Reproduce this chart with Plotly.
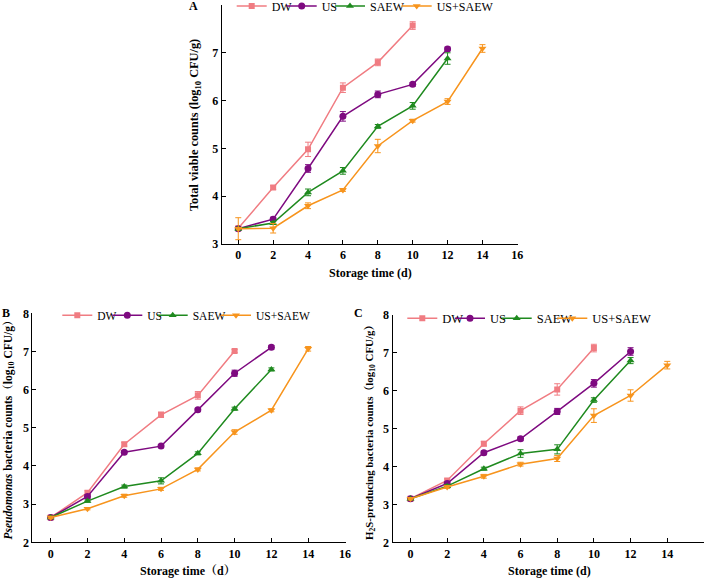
import plotly.graph_objects as go

W, H = 709, 578
days = [0, 2, 4, 6, 8, 10, 12, 14]
series_names = ["DW", "US", "SAEW", "US+SAEW"]
x_ticks = [0, 2, 4, 6, 8, 10, 12, 14, 16]
x_tick_labels = ["0", "2", "4", "6", "8", "10", "12", "14", "16"]
y_ticks_a = [3, 4, 5, 6, 7, 8]
y_ticks_bc = [2, 3, 4, 5, 6, 7, 8]

# Panel A: total viable counts
a_dw = [3.33, 4.18, 4.98, 6.27, 6.80, 7.57]
a_us = [3.32, 3.52, 4.58, 5.67, 6.13, 6.34, 7.08]
a_saew = [3.32, 3.44, 4.08, 4.53, 5.46, 5.89, 6.88]
a_ussaew = [3.32, 3.33, 3.80, 4.13, 5.05, 5.58, 5.98, 7.09]
a_dw_err = [0.03, 0.04, 0.15, 0.10, 0.07, 0.08]
a_us_err = [0.03, 0.04, 0.08, 0.10, 0.07, 0.04, 0.04]
a_saew_err = [0.03, 0.03, 0.07, 0.07, 0.04, 0.07, 0.12]
a_ussaew_err = [0.23, 0.10, 0.06, 0.03, 0.14, 0.03, 0.06, 0.08]

# Panel B: Pseudomonas counts
b_dw = [2.65, 3.30, 4.57, 5.34, 5.85, 7.01]
b_us = [2.65, 3.20, 4.36, 4.52, 5.47, 6.43, 7.11]
b_saew = [2.65, 3.08, 3.46, 3.61, 4.33, 5.50, 6.53]
b_ussaew = [2.65, 2.88, 3.22, 3.40, 3.91, 4.89, 5.46, 7.07]
b_dw_err = [0.03, 0.05, 0.05, 0.07, 0.10, 0.04]
b_us_err = [0.03, 0.05, 0.04, 0.04, 0.04, 0.08, 0.05]
b_saew_err = [0.03, 0.03, 0.04, 0.08, 0.04, 0.04, 0.04]
b_ussaew_err = [0.03, 0.03, 0.04, 0.04, 0.04, 0.06, 0.04, 0.06]

# Panel C: H2S-producing bacteria counts
c_dw = [3.15, 3.63, 4.60, 5.47, 6.03, 7.12]
c_us = [3.15, 3.55, 4.36, 4.73, 5.45, 6.19, 7.03]
c_saew = [3.15, 3.48, 3.94, 4.34, 4.45, 5.75, 6.79]
c_ussaew = [3.15, 3.46, 3.74, 4.06, 4.21, 5.34, 5.87, 6.67]
c_dw_err = [0.02, 0.04, 0.06, 0.10, 0.15, 0.10]
c_us_err = [0.03, 0.04, 0.05, 0.05, 0.08, 0.10, 0.10]
c_saew_err = [0.03, 0.04, 0.04, 0.10, 0.12, 0.06, 0.08]
c_ussaew_err = [0.03, 0.04, 0.05, 0.05, 0.08, 0.18, 0.15, 0.10]

colors = ["#F07C82", "#7E0A80", "#1F8A1F", "#F7941D"]
symbols = ["square", "circle", "triangle-up", "triangle-down"]
msizes = [6, 7, 7, 7]

FONT = "Liberation Serif, Times New Roman, Noto Serif CJK SC, Noto Sans CJK SC, serif"

panels = [
    ("x", "y", [a_dw, a_us, a_saew, a_ussaew], [a_dw_err, a_us_err, a_saew_err, a_ussaew_err]),
    ("x2", "y2", [b_dw, b_us, b_saew, b_ussaew], [b_dw_err, b_us_err, b_saew_err, b_ussaew_err]),
    ("x3", "y3", [c_dw, c_us, c_saew, c_ussaew], [c_dw_err, c_us_err, c_saew_err, c_ussaew_err]),
]

# legend text start (px) and vertical centre (px) for each panel
legend_text_x = [[271.7, 321.7, 370.0, 436.7], [97.3, 147.3, 192.7, 256.0], [442.3, 490.0, 536.7, 592.3]]
legend_y = [6, 315.3, 318.5]
legend_fs = [12, 11.5, 12.5]

fig = go.Figure()
layout_legends = {}
k = 0
for p, (xa, ya, vals, errs) in enumerate(panels):
    for s in range(4):
        k += 1
        lname = "legend" if k == 1 else f"legend{k}"
        fig.add_trace(go.Scatter(
            x=days[:len(vals[s])], y=vals[s], name=series_names[s],
            xaxis=xa, yaxis=ya, mode="lines+markers", legend=lname,
            line=dict(color=colors[s], width=1.5),
            marker=dict(symbol=symbols[s], size=msizes[s], color=colors[s]),
            error_y=dict(type="data", array=errs[s], color=colors[s], thickness=1, width=3),
        ))
        layout_legends[lname] = dict(
            x=(legend_text_x[p][s] - 40) / W, y=1 - legend_y[p] / H,
            xanchor="left", yanchor="middle", orientation="h",
            bgcolor="rgba(0,0,0,0)", borderwidth=0, itemwidth=30,
            font=dict(family=FONT, size=legend_fs[p], color="black"),
        )

def xd(a, b):
    return [a / W, b / W]

def yd(top, bottom):
    return [1 - bottom / H, 1 - top / H]

bold = lambda v: [f"<b>{t}</b>" for t in v]
axis_common = dict(showline=True, linecolor="black", linewidth=1, ticks="inside",
                   ticklen=4, tickcolor="black", showgrid=False, zeroline=False,
                   tickfont=dict(family=FONT, size=12, color="black"))

fig.update_layout(
    width=W, height=H, margin=dict(l=0, r=0, t=0, b=0, autoexpand=False),
    paper_bgcolor="white", plot_bgcolor="white", showlegend=True,
    xaxis=dict(domain=xd(221.7, 518.2), range=[-0.95, 16.05], tickvals=x_ticks, ticktext=bold(x_tick_labels), anchor="y", **axis_common),
    yaxis=dict(domain=yd(5, 244), range=[3, 8], tickvals=y_ticks_a, ticktext=bold(y_ticks_a), anchor="x", **axis_common),
    xaxis2=dict(domain=xd(32.3, 345.5), range=[-1.0, 16.03], tickvals=x_ticks, ticktext=bold(x_tick_labels), anchor="y2", **axis_common),
    yaxis2=dict(domain=yd(313.3, 542.3), range=[2, 8], tickvals=y_ticks_bc, ticktext=bold(y_ticks_bc), anchor="x2", **axis_common),
    xaxis3=dict(domain=xd(392.5, 704.3), range=[-0.98, 16.02], tickvals=x_ticks, ticktext=bold(x_tick_labels), anchor="y3", **axis_common),
    yaxis3=dict(domain=yd(314.7, 542.3), range=[2, 8], tickvals=y_ticks_bc, ticktext=bold(y_ticks_bc), anchor="x3", **axis_common),
    **layout_legends,
)

notes = [
    ("<b>A</b>", 193, 6, 0, 12),
    ("<b>B</b>", 5.5, 313, 0, 12),
    ("<b>C</b>", 358, 313, 0, 12),
    ("<b>Total viable counts (log<sub>10</sub> CFU/g)</b>", 195, 125, -90, 12.3),
    ("<b>Storage time (d)</b>", 370, 273, 0, 12),
    ("<b><i>Pseudomonas</i> bacteria counts（log<sub>10</sub> CFU/g）</b>", 8.5, 427, -90, 11.5),
    ("<b>Storage time（d）</b>", 188, 571, 0, 12),
    ("<b>H<sub>2</sub>S-producing bacteria counts（log<sub>10</sub> CFU/g）</b>", 370, 430, -90, 10.9),
    ("<b>Storage time (d)</b>", 549, 571, 0, 12),
]
for text, px, py, ang, fs in notes:
    fig.add_annotation(text=text, x=px / W, y=1 - py / H, xref="paper", yref="paper",
                       xanchor="center", yanchor="middle", showarrow=False,
                       textangle=ang, font=dict(family=FONT, size=fs, color="black"))

fig.write_html("out.html", config={"displayModeBar": False},
               post_script="document.body.style.margin='0';document.body.style.overflow='hidden';")
